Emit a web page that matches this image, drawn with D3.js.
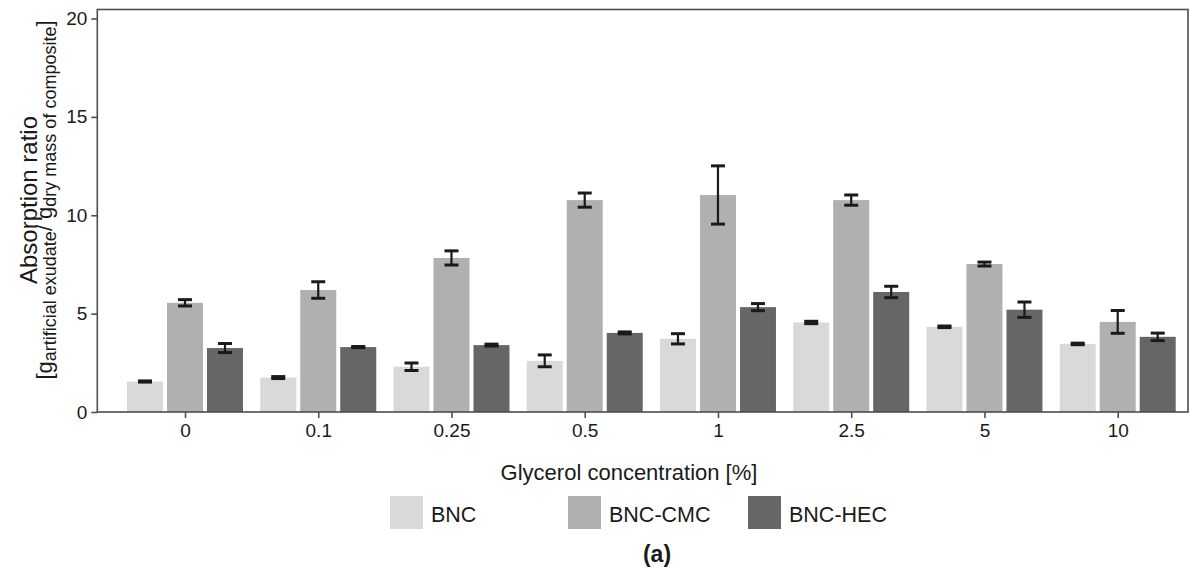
<!DOCTYPE html>
<html>
<head>
<meta charset="utf-8">
<script src="https://cdn.jsdelivr.net/npm/d3@7"></script>
<style>
    body { margin: 0; background: #ffffff; }
    text { font-family: "Liberation Sans", Arial, sans-serif; fill: #1a1a1a; }
</style>
</head>
<body>
<div id="AbsorptionChart"></div>
<script>
// glycerol concentrations (x categories)
var categories = ["0", "0.1", "0.25", "0.5", "1", "2.5", "5", "10"];
var seriesNames = ["BNC", "BNC-CMC", "BNC-HEC"];
var seriesColors = ["#d9d9d9", "#b0b0b0", "#666666"];

// mean absorption ratio and error
var bncValues = [1.55, 1.75, 2.3, 2.6, 3.72, 4.55, 4.33, 3.46];
var bncErrors = [0.03, 0.05, 0.19, 0.3, 0.26, 0.06, 0.04, 0.04];
var cmcValues = [5.55, 6.2, 7.83, 10.77, 11.03, 10.77, 7.52, 4.58];
var cmcErrors = [0.16, 0.42, 0.36, 0.36, 1.48, 0.26, 0.1, 0.58];
var hecValues = [3.25, 3.3, 3.4, 4.02, 5.33, 6.1, 5.2, 3.82];
var hecErrors = [0.23, 0.03, 0.05, 0.05, 0.18, 0.29, 0.39, 0.19];

var yTicks = [0, 5, 10, 15, 20];

var width = 1190,
    height = 568;

createView = function() {
    var svg = d3.select("#AbsorptionChart").append("svg")
        .attr("width", width)
        .attr("height", height);

    var panel = {left: 97.3, right: 1188, top: 9.5, bottom: 412};

    var x = d3.scalePoint()
        .domain(categories)
        .range([185, 1117.7]);
    var xSub = d3.scaleBand()
        .domain(seriesNames)
        .range([-58, 58])
        .paddingInner(0.1);
    var y = d3.scaleLinear()
        .domain([0, 20])
        .range([panel.bottom, 18.5]);

    var values = [bncValues, cmcValues, hecValues];
    var errors = [bncErrors, cmcErrors, hecErrors];
    var rows = [];
    for (var s = 0; s < seriesNames.length; s++) {
        for (var i = 0; i < categories.length; i++) {
            rows.push({cat: categories[i], series: seriesNames[s], color: seriesColors[s],
                value: values[s][i], err: errors[s][i]});
        }
    }

    // bars
    svg.append("g").selectAll("rect")
        .data(rows)
        .enter()
        .append("rect")
        .attr("x", d => x(d.cat) + xSub(d.series))
        .attr("y", d => y(d.value))
        .attr("width", xSub.bandwidth())
        .attr("height", d => y(0) - y(d.value))
        .attr("fill", d => d.color);

    // error bars
    var eb = svg.append("g")
        .attr("stroke", "#1a1a1a")
        .attr("stroke-width", 2.2)
        .selectAll("g")
        .data(rows)
        .enter()
        .append("g")
        .attr("transform", d => "translate(" + (x(d.cat) + xSub(d.series) + xSub.bandwidth() / 2) + ",0)");
    eb.append("line")
        .attr("y1", d => y(d.value - d.err))
        .attr("y2", d => y(d.value + d.err));
    eb.append("line")
        .attr("x1", -7).attr("x2", 7)
        .attr("y1", d => y(d.value + d.err))
        .attr("y2", d => y(d.value + d.err))
        .attr("stroke-width", 3);
    eb.append("line")
        .attr("x1", -7).attr("x2", 7)
        .attr("y1", d => y(d.value - d.err))
        .attr("y2", d => y(d.value - d.err))
        .attr("stroke-width", 3);

    // panel frame
    svg.append("rect")
        .attr("x", panel.left)
        .attr("y", panel.top)
        .attr("width", panel.right - panel.left)
        .attr("height", panel.bottom - panel.top)
        .attr("fill", "none")
        .attr("stroke", "#4d4d4d")
        .attr("stroke-width", 1.6);

    // axes
    var yAxis = svg.append("g")
        .attr("transform", "translate(" + panel.left + ",0)")
        .call(d3.axisLeft(y).tickValues(yTicks).tickSize(6).tickPadding(4));
    var xAxis = svg.append("g")
        .attr("transform", "translate(0," + panel.bottom + ")")
        .call(d3.axisBottom(x).tickSize(6).tickPadding(6));
    [yAxis, xAxis].forEach(function(a) {
        a.select(".domain").remove();
        a.selectAll(".tick line").attr("stroke", "#4d4d4d").attr("stroke-width", 1.6);
        a.selectAll(".tick text")
            .attr("font-family", "Liberation Sans, Arial, sans-serif")
            .attr("font-size", 19)
            .attr("fill", "#1a1a1a");
    });

    // x title
    svg.append("text")
        .attr("x", 629)
        .attr("y", 480)
        .attr("text-anchor", "middle")
        .attr("font-size", 22)
        .text("Glycerol concentration [%]");

    // y title, two lines
    var yTitle = svg.append("g")
        .attr("transform", "translate(0,200) rotate(-90)");
    yTitle.append("text")
        .attr("x", 0)
        .attr("y", 37)
        .attr("text-anchor", "middle")
        .attr("font-size", 24)
        .text("Absorption ratio");
    var sub = yTitle.append("text")
        .attr("x", 0)
        .attr("y", 52)
        .attr("text-anchor", "middle")
        .attr("font-size", 22);
    sub.append("tspan").text("[g");
    sub.append("tspan").attr("font-size", 18).attr("dy", 4).text("artificial exudate");
    sub.append("tspan").attr("dy", -4).text("/ g");
    sub.append("tspan").attr("font-size", 18).attr("dy", 4).text("dry mass of composite");
    sub.append("tspan").attr("dy", -4).text("]");

    // legend
    var legendX = [390, 568, 748];
    var legend = svg.append("g").selectAll("g")
        .data(seriesNames)
        .enter()
        .append("g")
        .attr("transform", (d, i) => "translate(" + legendX[i] + ",496)");
    legend.append("rect")
        .attr("width", 33)
        .attr("height", 33)
        .attr("fill", (d, i) => seriesColors[i]);
    legend.append("text")
        .attr("x", 41)
        .attr("y", 25.5)
        .attr("font-size", 21.5)
        .text(d => d);

    // panel label
    svg.append("text")
        .attr("x", 657)
        .attr("y", 562)
        .attr("text-anchor", "middle")
        .attr("font-size", 23)
        .attr("font-weight", "bold")
        .text("(a)");
}

createView();
</script>
</body>
</html>
